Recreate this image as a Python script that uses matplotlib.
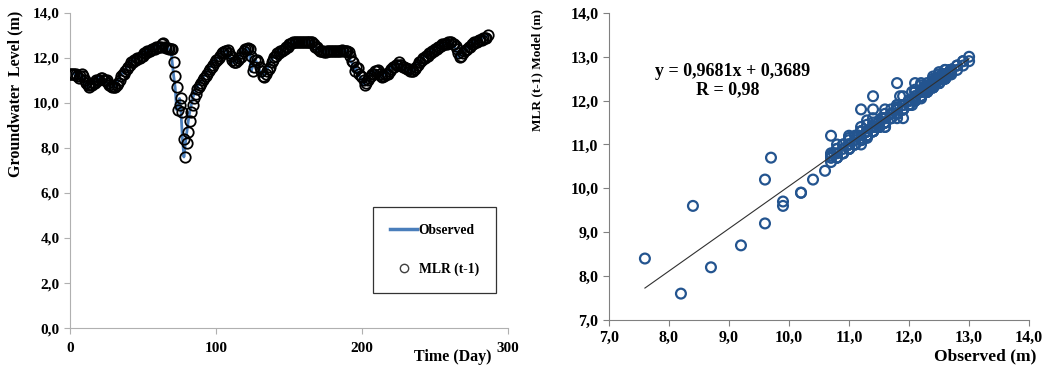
import numpy as np
import matplotlib.pyplot as plt
from matplotlib.lines import Line2D
from matplotlib.ticker import FuncFormatter

# daily groundwater level (m)
observed = [
    11.3, 11.3, 11.3, 11.3, 11.2, 11.1, 11.2, 11.3, 11.2, 11.0,
    10.9, 10.8, 10.7, 10.8, 10.8, 10.9, 10.9, 11.0, 11.0, 11.0,
    11.1, 11.1, 11.0, 11.0, 11.0, 10.9, 10.8, 10.75, 10.7, 10.7,
    10.7, 10.8, 10.9, 11.0, 11.2, 11.3, 11.3, 11.4, 11.5, 11.6,
    11.7, 11.8, 11.8, 11.9, 11.9, 12.0, 12.0, 12.0, 12.1, 12.1,
    12.2, 12.2, 12.3, 12.3, 12.3, 12.4, 12.4, 12.4, 12.5, 12.5,
    12.5, 12.5, 12.6, 12.65, 12.5, 12.45, 12.45, 12.4, 12.4, 12.4,
    11.8, 11.2, 10.7, 9.7, 9.9, 10.2, 9.6, 8.4, 7.6, 8.2,
    8.7, 9.2, 9.6, 9.9, 10.2, 10.4, 10.6, 10.7, 10.8, 10.9,
    11.0, 11.1, 11.2, 11.3, 11.4, 11.5, 11.6, 11.7, 11.8, 11.9,
    11.9, 12.0, 12.1, 12.2, 12.25, 12.3, 12.3, 12.35, 12.2, 12.1,
    11.9, 11.8, 11.8, 11.8, 11.9, 12.0, 12.05, 12.2, 12.3, 12.4,
    12.4, 12.45, 12.4, 12.1, 11.4, 11.6, 11.9, 11.9, 11.8, 11.6,
    11.4, 11.2, 11.15, 11.3, 11.4, 11.5, 11.6, 11.8, 11.9, 12.05,
    12.1, 12.2, 12.2, 12.3, 12.3, 12.35, 12.4, 12.5, 12.5, 12.6,
    12.6, 12.65, 12.7, 12.7, 12.7, 12.7, 12.7, 12.7, 12.7, 12.7,
    12.7, 12.7, 12.7, 12.7, 12.7, 12.7, 12.6, 12.5, 12.5, 12.4,
    12.3, 12.3, 12.3, 12.25, 12.25, 12.3, 12.3, 12.3, 12.3, 12.3,
    12.3, 12.3, 12.3, 12.3, 12.3, 12.35, 12.3, 12.3, 12.3, 12.3,
    12.25, 12.1, 11.85, 11.8, 11.4, 11.6, 11.55, 11.3, 11.2, 11.15,
    11.0, 10.8, 10.9, 11.0, 11.1, 11.2, 11.3, 11.3, 11.4, 11.4,
    11.45, 11.3, 11.2, 11.15, 11.2, 11.3, 11.3, 11.3, 11.4, 11.5,
    11.6, 11.6, 11.7, 11.7, 11.8, 11.7, 11.7, 11.6, 11.6, 11.55,
    11.5, 11.5, 11.4, 11.4, 11.4, 11.5, 11.6, 11.7, 11.8, 11.8,
    11.9, 12.0, 12.0, 12.1, 12.1, 12.2, 12.2, 12.3, 12.3, 12.4,
    12.4, 12.5, 12.5, 12.55, 12.6, 12.6, 12.6, 12.6, 12.7, 12.7,
    12.7, 12.6, 12.6, 12.55, 12.4, 12.2, 12.05, 12.1, 12.2, 12.3,
    12.35, 12.4, 12.5, 12.5, 12.6, 12.6, 12.7, 12.7, 12.7, 12.8,
    12.8, 12.8, 12.9, 12.9, 12.9, 13.0, 13.0,
]

# MLR (t-1) model output (m)
mlr_t1 = [
    11.3, 11.3, 11.3, 11.3, 11.3, 11.2, 11.1, 11.2, 11.3, 11.2,
    11.0, 10.9, 10.8, 10.7, 10.8, 10.8, 10.9, 10.9, 11.0, 11.0,
    11.0, 11.1, 11.1, 11.0, 11.0, 11.0, 10.9, 10.8, 10.75, 10.7,
    10.7, 10.7, 10.8, 10.9, 11.0, 11.2, 11.3, 11.3, 11.4, 11.5,
    11.6, 11.7, 11.8, 11.8, 11.9, 11.9, 12.0, 12.0, 12.0, 12.1,
    12.1, 12.2, 12.2, 12.3, 12.3, 12.3, 12.4, 12.4, 12.4, 12.5,
    12.5, 12.5, 12.5, 12.6, 12.65, 12.5, 12.45, 12.45, 12.4, 12.4,
    12.4, 11.8, 11.2, 10.7, 9.7, 9.9, 10.2, 9.6, 8.4, 7.6,
    8.2, 8.7, 9.2, 9.6, 9.9, 10.2, 10.4, 10.6, 10.7, 10.8,
    10.9, 11.0, 11.1, 11.2, 11.3, 11.4, 11.5, 11.6, 11.7, 11.8,
    11.9, 11.9, 12.0, 12.1, 12.2, 12.25, 12.3, 12.3, 12.35, 12.2,
    12.1, 11.9, 11.8, 11.8, 11.8, 11.9, 12.0, 12.05, 12.2, 12.3,
    12.4, 12.4, 12.45, 12.4, 12.1, 11.4, 11.6, 11.9, 11.9, 11.8,
    11.6, 11.4, 11.2, 11.15, 11.3, 11.4, 11.5, 11.6, 11.8, 11.9,
    12.05, 12.1, 12.2, 12.2, 12.3, 12.3, 12.35, 12.4, 12.5, 12.5,
    12.6, 12.6, 12.65, 12.7, 12.7, 12.7, 12.7, 12.7, 12.7, 12.7,
    12.7, 12.7, 12.7, 12.7, 12.7, 12.7, 12.7, 12.6, 12.5, 12.5,
    12.4, 12.3, 12.3, 12.3, 12.25, 12.25, 12.3, 12.3, 12.3, 12.3,
    12.3, 12.3, 12.3, 12.3, 12.3, 12.3, 12.35, 12.3, 12.3, 12.3,
    12.3, 12.25, 12.1, 11.85, 11.8, 11.4, 11.6, 11.55, 11.3, 11.2,
    11.15, 11.0, 10.8, 10.9, 11.0, 11.1, 11.2, 11.3, 11.3, 11.4,
    11.4, 11.45, 11.3, 11.2, 11.15, 11.2, 11.3, 11.3, 11.3, 11.4,
    11.5, 11.6, 11.6, 11.7, 11.7, 11.8, 11.7, 11.7, 11.6, 11.6,
    11.55, 11.5, 11.5, 11.4, 11.4, 11.4, 11.5, 11.6, 11.7, 11.8,
    11.8, 11.9, 12.0, 12.0, 12.1, 12.1, 12.2, 12.2, 12.3, 12.3,
    12.4, 12.4, 12.5, 12.5, 12.55, 12.6, 12.6, 12.6, 12.6, 12.7,
    12.7, 12.7, 12.6, 12.6, 12.55, 12.4, 12.2, 12.05, 12.1, 12.2,
    12.3, 12.35, 12.4, 12.5, 12.5, 12.6, 12.6, 12.7, 12.7, 12.7,
    12.8, 12.8, 12.8, 12.9, 12.9, 12.9, 13.0,
]

days = np.arange(len(observed))

# trendline shown on the scatter
slope = 0.9681
intercept = 0.3689
r_value = "0,98"

plt.rcParams["font.family"] = ["Liberation Serif", "DejaVu Serif"]
plt.rcParams["font.weight"] = "bold"

comma = FuncFormatter(lambda v, p: f"{v:.1f}".replace(".", ","))
axis_gray = "#b0b0b0"

fig = plt.figure(figsize=(10.48, 3.69), dpi=100)

# ---- left: time series
ax1 = fig.add_axes([0.0668, 0.111, 0.418, 0.854])
ax1.plot(days, observed, color="#4a7ebb", lw=2, zorder=2)
ax1.plot(days, mlr_t1, ls="none", marker="o", ms=7.5, mfc="none", mec="black",
         mew=1.3, zorder=3)
ax1.set_xlim(0, 300)
ax1.set_ylim(0, 14)
ax1.set_xticks([0, 100, 200, 300])
ax1.set_yticks(np.arange(0, 14.1, 2))
ax1.yaxis.set_major_formatter(comma)
for s in ["top", "right"]:
    ax1.spines[s].set_visible(False)
for s in ["left", "bottom"]:
    ax1.spines[s].set_color(axis_gray)
ax1.tick_params(colors=axis_gray, labelcolor="black", labelsize=11, length=4)
ax1.tick_params(axis="x", pad=6)
for lab in ax1.get_xticklabels() + ax1.get_yticklabels():
    lab.set_fontweight("bold")

handles = [
    Line2D([], [], color="#4a7ebb", lw=2.5),
    Line2D([], [], ls="none", marker="o", ms=6, mfc="none", mec="#404040", mew=1),
]
leg = ax1.legend(handles, ["Observed", "MLR (t-1)"], loc="upper left",
                 bbox_to_anchor=(0.692, 0.384),
                 fancybox=False, edgecolor="black", handlelength=2.0,
                 handletextpad=0.1, labelspacing=1.9, borderpad=1.25,
                 borderaxespad=0, prop={"weight": "bold", "size": 9.8})
leg.get_frame().set_linewidth(0.9)

fig.text(0.015, 0.745, "Groundwater  Level (m)", rotation=90, ha="center",
         va="center", fontsize=11.5, fontweight="bold")
fig.text(0.432, 0.033, "Time (Day)", ha="center", va="center", fontsize=11.5,
         fontweight="bold")

# ---- right: scatter
ax2 = fig.add_axes([0.581, 0.133, 0.401, 0.832])
ax2.scatter(observed, mlr_t1, s=50, facecolors="none", edgecolors="#23548f",
            linewidths=1.6, zorder=3)
xfit = np.array([min(observed), max(observed)])
ax2.plot(xfit, slope * xfit + intercept, color="#303030", lw=0.8, zorder=4)
ax2.set_xlim(7, 14)
ax2.set_ylim(7, 14)
ax2.set_xticks(np.arange(7, 14.1, 1))
ax2.set_yticks(np.arange(7, 14.1, 1))
ax2.xaxis.set_major_formatter(comma)
ax2.yaxis.set_major_formatter(comma)
for s in ["top", "right"]:
    ax2.spines[s].set_visible(False)
for s in ["left", "bottom"]:
    ax2.spines[s].set_color("#808080")
ax2.tick_params(colors="#808080", labelcolor="black", labelsize=11.5, length=4)
for lab in ax2.get_xticklabels() + ax2.get_yticklabels():
    lab.set_fontweight("bold")

ax2.text(0.294, 0.808, f"y = {slope:.4f}x + {intercept:.4f}".replace(".", ","),
         transform=ax2.transAxes, ha="center", va="center", fontsize=13,
         fontweight="bold")
ax2.text(0.282, 0.749, f"R = {r_value}", transform=ax2.transAxes, ha="center",
         va="center", fontsize=13, fontweight="bold")

fig.text(0.513, 0.81, "MLR (t-1) Model (m)", rotation=90, ha="center",
         va="center", fontsize=9.5, fontweight="bold")
fig.text(0.94, 0.035, "Observed (m)", ha="center", va="center", fontsize=12.5,
         fontweight="bold")

fig.savefig("out.png", dpi=100)
